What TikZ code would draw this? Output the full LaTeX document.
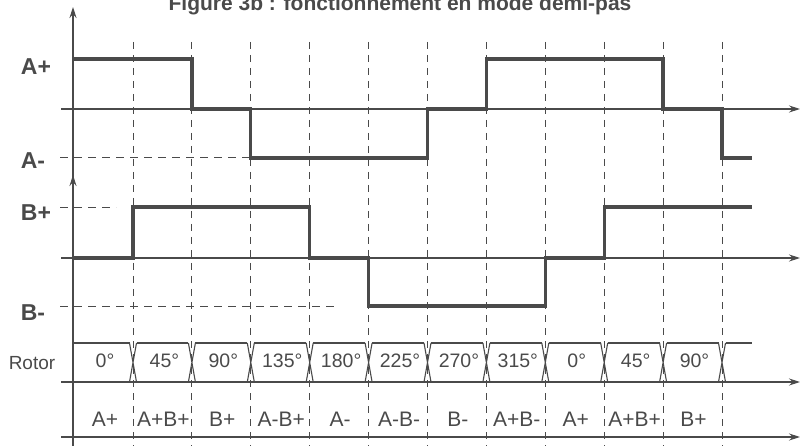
\documentclass[tikz,border=0pt]{standalone}
\usepackage{fontspec}
\setmainfont{Liberation Sans}
\usetikzlibrary{arrows.meta}
\definecolor{ink}{HTML}{4A4A4A}
\begin{document}
\begin{tikzpicture}[x=1pt,y=-1pt,
  axis/.style={draw=ink,line width=1.1pt},
  axarrow/.style={axis,-{Stealth[length=11pt,width=7pt]}},
  wave/.style={draw=ink,line width=3.2pt,line join=miter},
  gridline/.style={draw=ink,line width=0.9pt,dash pattern=on 7pt off 6pt},
  lvl/.style={draw=ink,line width=1pt,dash pattern=on 8pt off 6pt},
  biglab/.style={font=\fontsize{23}{23}\selectfont\bfseries,text=ink},
  rotlab/.style={font=\fontsize{19}{19}\selectfont,text=ink},
  anglab/.style={font=\fontsize{19.5}{19.5}\selectfont,text=ink},
  steplab/.style={font=\fontsize{21}{21}\selectfont,text=ink},
  titlestyle/.style={font=\fontsize{21}{21}\selectfont\bfseries,text=ink}]
\useasboundingbox (0,0) rectangle (800,446);
% title
\node[titlestyle,anchor=base] (title) at (400,11) {Figure 3b : fonctionnement en mode demi-pas};
% vertical dashed grid
\foreach \i in {0,...,10}{
  \pgfmathsetmacro\xx{133+58.9*\i}
  \draw[gridline] (\xx,42) -- (\xx,446);
}
% level dashed lines
\draw[lvl] (60,158) -- (251,158);
\draw[lvl] (60,208) -- (116,208);
\draw[lvl] (60,306) -- (336,306);
% vertical axis
\draw[axarrow] (73,446) -- (73,7);
\draw[axarrow] (73,200) -- (73,175);
% horizontal axes
\draw[axarrow] (61,109) -- (800,109);
\draw[axarrow] (61,258) -- (800,258);
\draw[axarrow] (61,382) -- (800,382);
\draw[axarrow] (61,437) -- (800,437);
% waveform A
\draw[wave] (73,59) -- (191.9,59) -- (191.9,109) -- (250.8,109) -- (250.8,158)
  -- (427.5,158) -- (427.5,109) -- (486.4,109) -- (486.4,59) -- (663,59)
  -- (663,109) -- (722,109) -- (722,158) -- (752,158);
% waveform B
\draw[wave] (73,258) -- (133,258) -- (133,207) -- (309.7,207) -- (309.7,258)
  -- (368.6,258) -- (368.6,306) -- (545.3,306) -- (545.3,258) -- (604.2,258)
  -- (604.2,207) -- (752,207);
% rotor bus
\draw[axis] (73,343) -- (129.5,343);
\foreach \i in {0,...,10}{
  \pgfmathsetmacro\xx{133+58.9*\i}
  \draw[axis] (\xx-3.5,343) -- (\xx+3.5,382) (\xx-3.5,382) -- (\xx+3.5,343);
}
\foreach \i in {0,...,9}{
  \pgfmathsetmacro\xa{133+58.9*\i+3.5}
  \pgfmathsetmacro\xb{133+58.9*(\i+1)-3.5}
  \draw[axis] (\xa,343) -- (\xb,343);
}
\draw[axis] (725.5,343) -- (752,343);
% left labels
\node[biglab] (lap) at (36,67) {A+};
\node[biglab] (lam) at (33,161) {A-};
\node[biglab] (lbp) at (36,213) {B+};
\node[biglab] (lbm) at (33,313) {B-};
\node[rotlab] (lrot) at (32,363) {Rotor};
% rotor angles
\foreach \t [count=\k from 0] in {0°,45°,90°,135°,180°,225°,270°,315°,0°,45°,90°}{
  \pgfmathsetmacro\xc{\k==0 ? 105 : 133+58.9*(\k-0.5)+2}
  \node[anglab] (ang\k) at (\xc,361) {\t};
}
% step labels
\foreach \t [count=\k from 0] in {A+,A+B+,B+,A-B+,A-,A-B-,B-,A+B-,A+,A+B+,B+}{
  \pgfmathsetmacro\xc{\k==0 ? 105 : 133+58.9*(\k-0.5)+1}
  \node[steplab] (st\k) at (\xc,419) {\t};
}
\end{tikzpicture}
\end{document}
